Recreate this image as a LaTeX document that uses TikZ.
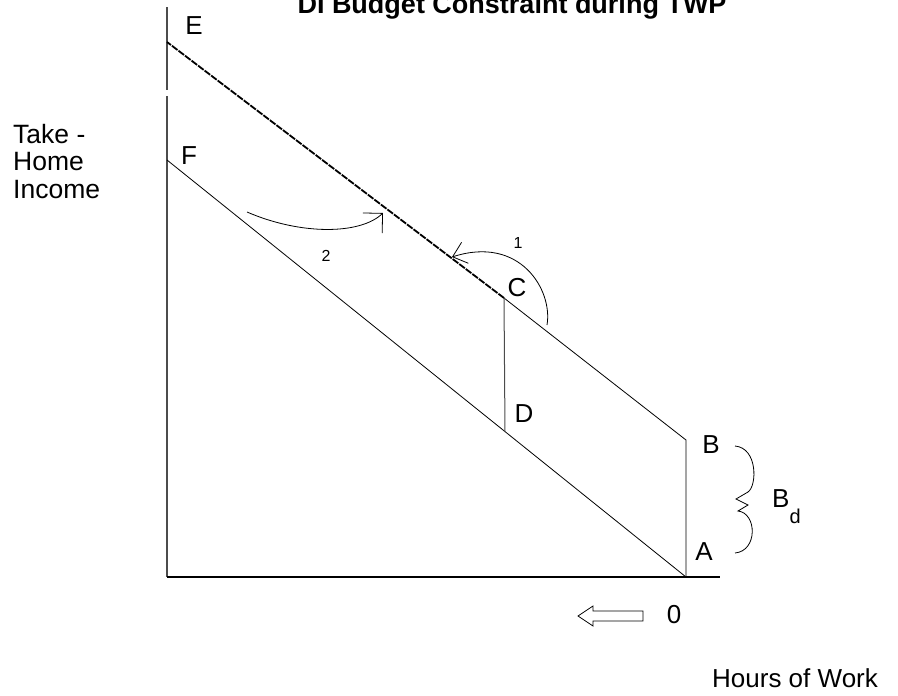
\documentclass[tikz,border=0pt]{standalone}
\usepackage{fontspec}
\setmainfont{Liberation Sans}
\usetikzlibrary{arrows.meta}

\begin{document}
\begin{tikzpicture}[x=1pt,y=-1pt, lbl/.style={inner sep=0pt,font=\fontsize{26}{28}\selectfont}, small/.style={inner sep=0pt,font=\fontsize{16}{18}\selectfont}, thin/.style={line width=0.8pt}, axis/.style={line width=1.1pt,black!70}, newline/.style={line width=1.8pt,dash pattern=on 7pt off 1.2pt}, turn/.style={line width=0.8pt}]
\useasboundingbox (0,0) rectangle (898,696);
% corners of the constraint
\coordinate (O) at (167,577);
\coordinate (Xend) at (720,577);
\coordinate (Ytop) at (167,7);
\coordinate (Ygap) at (167,90);
\coordinate (Ygap2) at (167,96);
\coordinate (E) at (167,42);
\coordinate (F) at (167,160);
\coordinate (C) at (504,298);
\coordinate (D) at (505,432);
\coordinate (B) at (686,440);
\coordinate (A) at (686,577);
% axes
\draw[axis] (Ytop) -- (Ygap);
\draw[axis] (Ygap2) -- (O);
\draw[line width=1.3pt] (O) -- (Xend);
% budget lines
\draw[thin] (A) -- (F);
\draw[thin] (A) -- (B) -- (C);
\draw[axis,line width=1pt] (C) -- (D);
\draw[newline] (C) -- (E);
% labels
\node[font=\bfseries\fontsize{27}{30}\selectfont,anchor=base,inner sep=0pt] (title) at (512,13) {DI Budget Constraint during TWP};
\node[lbl] (lE) at (194,26) {E};
\node[lbl] (lF) at (189,156) {F};
\node[lbl] (lC) at (517,288) {C};
\node[lbl] (lD) at (524,414) {D};
\node[lbl] (lB) at (711,445) {B};
\node[lbl] (lA) at (704,552) {A};
\node[lbl,anchor=north west,align=left,font=\fontsize{26.5}{27.5}\selectfont] (yl) at (13,124) {Take -\\Home\\Income};
\node[lbl,anchor=base west] (xl) at (712,687) {Hours of Work};
\node[lbl,anchor=base] (zero) at (674,623) {0};
\node[lbl,anchor=base west] (bd) at (772,507) {B\raisebox{-16pt}{\fontsize{20}{20}\selectfont d}};
% shifts of the line
\coordinate (s1) at (547,325);
\coordinate (t1) at (452,257);
\draw[turn,-{Straight Barb[length=13pt,width=22pt]}] (s1) .. controls (553,290) and (520,235) .. (t1);
\node[small] (n1) at (518,243) {1};
\coordinate (s2) at (247,212);
\coordinate (t2) at (383,213);
\draw[turn,-{Straight Barb[length=14pt,width=28pt]}] (s2) .. controls (300,235) and (360,235) .. (t2);
\node[small] (n2) at (326,256) {2};
% brace for the benefit
\draw[thin] (735,446) .. controls (758,448) and (757,486) .. (748,492) -- (736,499) -- (748,505) -- (738,511) .. controls (757,513) and (758,551) .. (735,553);
% hollow arrow on the hours axis
\draw[thin] (643,611) -- (593,611) -- (593,606) -- (578,616) -- (593,626) -- (593,621) -- (643,621) -- cycle;
\end{tikzpicture}
\end{document}
